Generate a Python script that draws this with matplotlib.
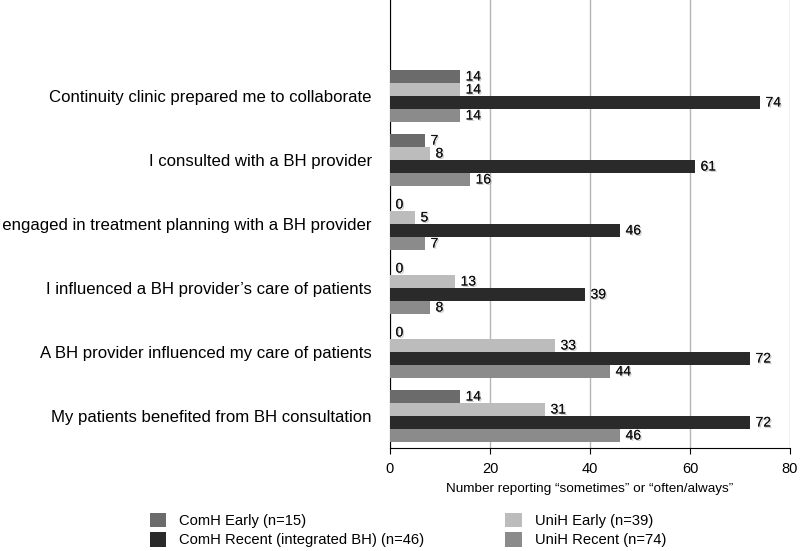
import matplotlib
matplotlib.use('Agg')
import matplotlib.pyplot as plt
import matplotlib.patheffects as pe
import numpy as np

plt.rcParams['font.family'] = ['Liberation Sans', 'DejaVu Sans']

# survey items (top to bottom)
items = ['Continuity clinic prepared me to collaborate',
         'I consulted with a BH provider',
         'I engaged in treatment planning with a BH provider',
         'I influenced a BH provider\u2019s care of patients',
         'A BH provider influenced my care of patients',
         'My patients benefited from BH consultation']

series_names = ['ComH Early (n=15)', 'UniH Early (n=39)',
                'ComH Recent (integrated BH) (n=46)', 'UniH Recent (n=74)']
comh_early = [14, 7, 0, 0, 0, 14]
unih_early = [14, 8, 5, 13, 33, 31]
comh_recent = [74, 61, 46, 39, 72, 72]
unih_recent = [14, 16, 7, 8, 44, 46]
series_colours = ['#6b6b6b', '#bcbcbc', '#2a2a2a', '#8b8b8b']

fig = plt.figure(figsize=(8, 5.51), dpi=100)
ax = fig.add_axes([390/800, 1 - 448/551, 400/800, 448/551])

y = np.arange(len(items))
bar_h = 0.203
offsets = [-1.5, -0.5, 0.5, 1.5]
shadow = [pe.withSimplePatchShadow(offset=(1, -1), shadow_rgbFace='#999999', alpha=0.5), pe.Normal()]

bars = []
for vals, col, off, name in zip([comh_early, unih_early, comh_recent, unih_recent],
                                series_colours, offsets, series_names):
    b = ax.barh(y + off*bar_h, vals, height=bar_h, color=col, label=name, zorder=3)
    bars.append(b)
    for yy, v in zip(y + off*bar_h, vals):
        ax.annotate(str(v), (v, yy), xytext=(4, 0), textcoords='offset points',
                    va='center', ha='left', fontsize=10, color='#111111',
                    path_effects=shadow, zorder=4)

ax.set_ylim(5.5, -1.5)
ax.set_xlim(0, 80)
ax.set_xticks([0, 20, 40, 60, 80])
ax.set_yticks(y)
ax.set_yticklabels(items, fontsize=12.1)
ax.tick_params(axis='y', length=0, pad=13)
ax.tick_params(axis='x', length=4, labelsize=10.5, pad=6)
ax.xaxis.grid(True, color='#b5b5b5', lw=1, zorder=0)
for s in ['top', 'right']:
    ax.spines[s].set_visible(False)
ax.spines['left'].set_color('black')
ax.spines['bottom'].set_color('black')
ax.set_xlabel('Number reporting \u201csometimes\u201d or \u201coften/always\u201d', fontsize=9.7, labelpad=5)

handles = [bars[0], bars[2], bars[1], bars[3]]
labels = [series_names[0], series_names[2], series_names[1], series_names[3]]
leg = fig.legend(handles, labels, ncol=2, loc='upper left', bbox_to_anchor=(144/800, 1 - 507/551),
                 frameon=False, fontsize=10.6, handlelength=1.1, handleheight=1.1,
                 columnspacing=5.5, handletextpad=0.9, labelspacing=0.3, borderaxespad=0)

fig.savefig('out.png', dpi=100)
